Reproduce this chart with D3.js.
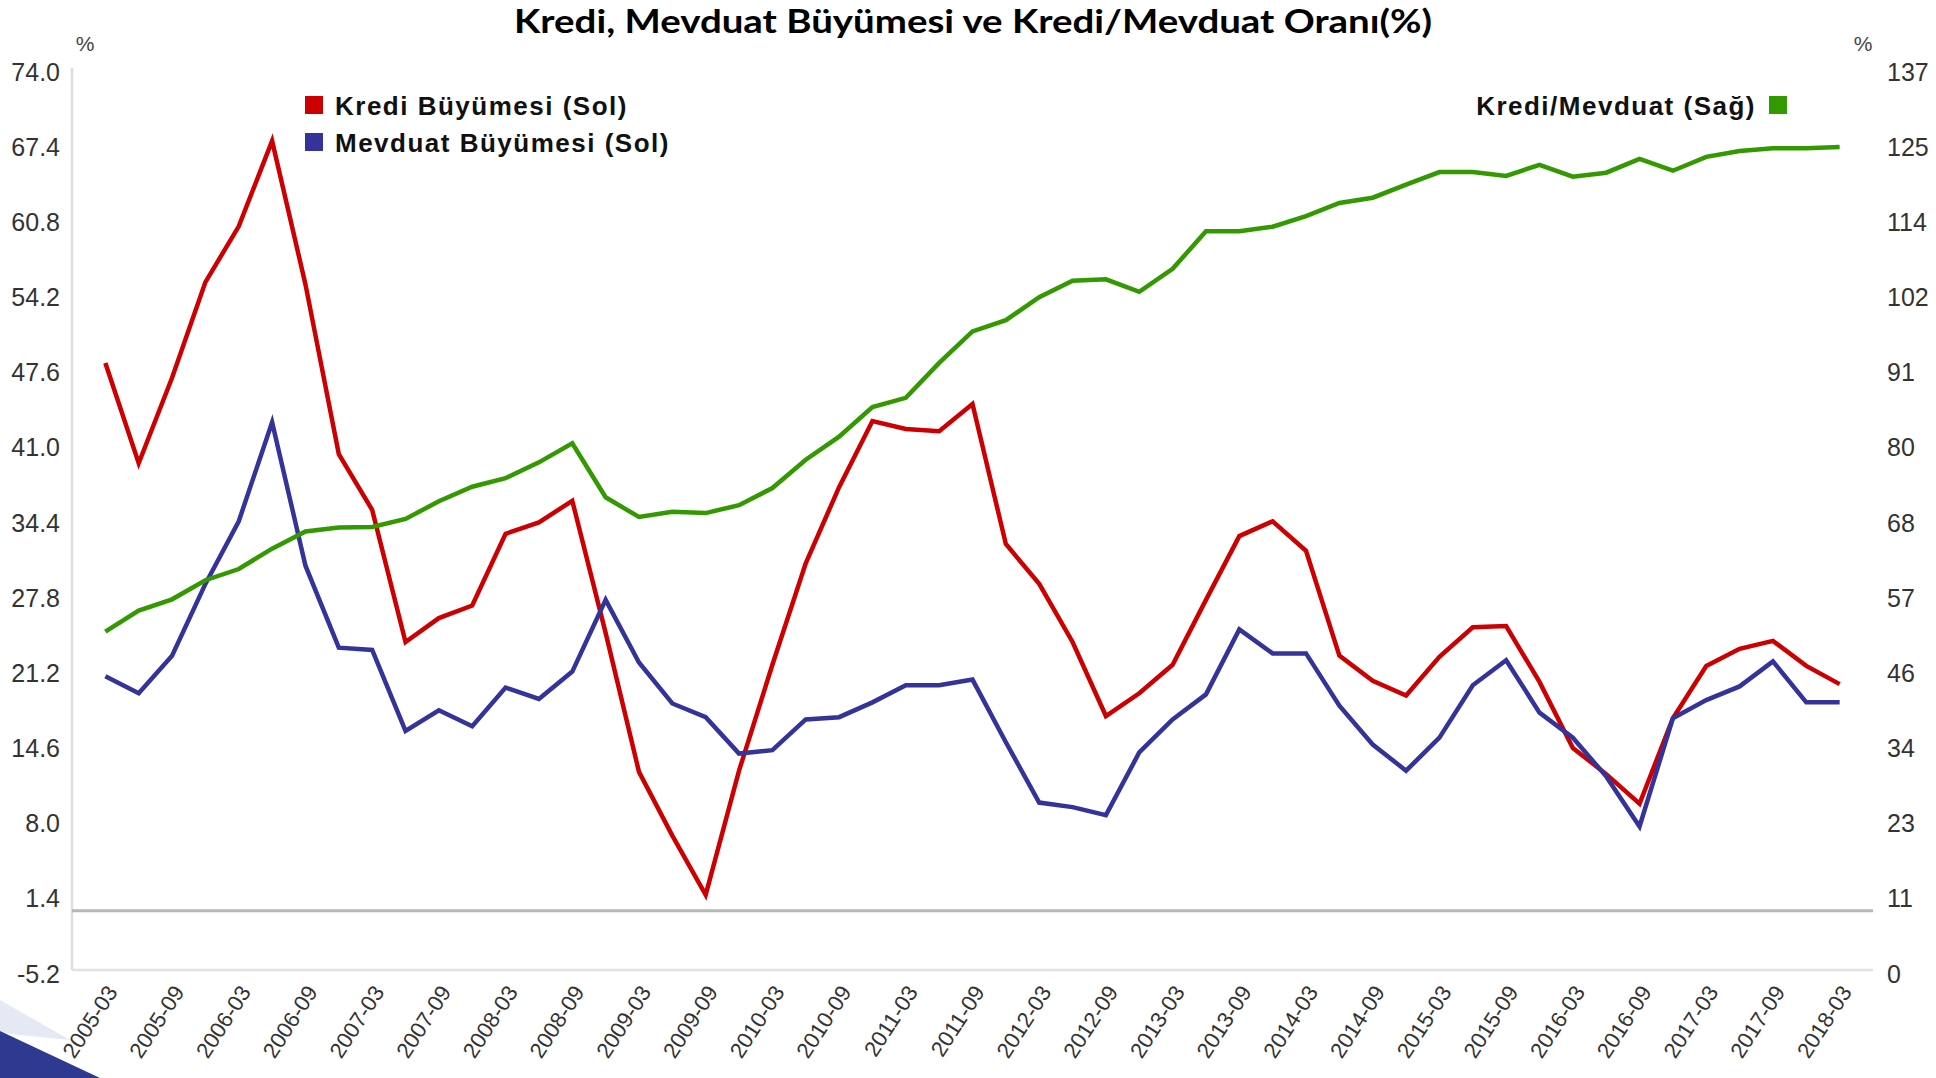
<!DOCTYPE html>
<html>
<head>
<meta charset="utf-8">
<script src="https://cdn.jsdelivr.net/npm/d3@7"></script>
<style>
  html, body { margin: 0; padding: 0; background: #fff; overflow: hidden; }
  svg { display: block; }
  text { font-family: "Liberation Sans", Arial, sans-serif; }
</style>
</head>
<body>
<div class="chart"></div>
<script>
// Data (quarterly, %)
const quarters = [
  "2005-03","2005-06","2005-09","2005-12","2006-03","2006-06","2006-09","2006-12",
  "2007-03","2007-06","2007-09","2007-12","2008-03","2008-06","2008-09","2008-12",
  "2009-03","2009-06","2009-09","2009-12","2010-03","2010-06","2010-09","2010-12",
  "2011-03","2011-06","2011-09","2011-12","2012-03","2012-06","2012-09","2012-12",
  "2013-03","2013-06","2013-09","2013-12","2014-03","2014-06","2014-09","2014-12",
  "2015-03","2015-06","2015-09","2015-12","2016-03","2016-06","2016-09","2016-12",
  "2017-03","2017-06","2017-09","2017-12","2018-03"
];

const krediGrowth = [
  48.1, 39.3, 46.8, 55.2, 60.1, 67.6, 55.0, 40.1, 35.2, 23.6, 25.7, 26.8, 33.1, 34.1,
  36.0, 24.4, 12.2, 6.6, 1.4, 12.3, 21.6, 30.5, 37.2, 43.0, 42.3, 42.1, 44.5, 32.2,
  28.7, 23.6, 17.1, 19.1, 21.6, 27.3, 32.9, 34.2, 31.6, 22.4, 20.2, 18.9, 22.3, 24.9,
  25.0, 20.1, 14.3, 12.0, 9.4, 16.9, 21.5, 23.0, 23.7, 21.5, 19.9
];

const mevduatGrowth = [
  20.6, 19.1, 22.4, 28.7, 34.2, 42.9, 30.3, 23.1, 22.9, 15.8, 17.6, 16.2, 19.6, 18.6,
  21.0, 27.3, 21.8, 18.2, 17.0, 13.8, 14.1, 16.8, 17.0, 18.3, 19.8, 19.8, 20.3, 14.8,
  9.5, 9.1, 8.4, 13.9, 16.8, 19.0, 24.7, 22.6, 22.6, 18.0, 14.6, 12.3, 15.2, 19.8,
  22.0, 17.4, 15.2, 11.8, 7.4, 16.9, 18.5, 19.7, 21.9, 18.3, 18.3
];

const krediMevduatRatio = [
  51.4, 54.6, 56.3, 59.2, 60.9, 64.0, 66.6, 67.2, 67.3, 68.5, 71.2, 73.4, 74.7, 77.1,
  80.0, 71.8, 68.8, 69.6, 69.4, 70.6, 73.2, 77.5, 81.0, 85.5, 86.9, 92.2, 97.0, 98.7,
  102.2, 104.7, 104.9, 103.0, 106.5, 112.2, 112.2, 112.9, 114.5, 116.5, 117.3, 119.3, 121.2, 121.2,
  120.6, 122.3, 120.5, 121.1, 123.2, 121.4, 123.5, 124.4, 124.8, 124.8, 125.0
];

const leftTicks = [-5.2, 1.4, 8.0, 14.6, 21.2, 27.8, 34.4, 41.0, 47.6, 54.2, 60.8, 67.4, 74.0];
const rightTickLabels = ["0", "11", "23", "34", "46", "57", "68", "80", "91", "102", "114", "125", "137"];
const rightMax = 137;
const xTickLabels = [
  "2005-03","2005-09","2006-03","2006-09","2007-03","2007-09","2008-03","2008-09",
  "2009-03","2009-09","2010-03","2010-09","2011-03","2011-09","2012-03","2012-09",
  "2013-03","2013-09","2014-03","2014-09","2015-03","2015-09","2016-03","2016-09",
  "2017-03","2017-09","2018-03"
];

const series = [
  { name: "Kredi Büyümesi (Sol)", values: krediGrowth, color: "#cc0000", axis: "left" },
  { name: "Mevduat Büyümesi (Sol)", values: mevduatGrowth, color: "#333399", axis: "left" },
  { name: "Kredi/Mevduat (Sağ)", values: krediMevduatRatio, color: "#339900", axis: "right" }
];

// plot box (absolute page coordinates)
const margin = { top: 68, right: 63, bottom: 108, left: 72 };
const outerWidth = 1936;
const outerHeight = 1078;
const plotRight = outerWidth - margin.right;
const plotBottom = outerHeight - margin.bottom;

const svg = d3.select('.chart')
  .append('svg')
    .attr('width', outerWidth)
    .attr('height', outerHeight);

// bottom-left slide decoration
svg.append('path')
  .attr('d', 'M0,1000 L70,1040 L0,1033 Z')
  .attr('fill', '#e4e9f4');
svg.append('path')
  .attr('d', 'M0,1031 L100,1078 L0,1078 Z')
  .attr('fill', '#2e3a8f');

// title
svg.append('text')
  .attr('x', 973)
  .attr('y', 33)
  .attr('text-anchor', 'middle')
  .style('font-family', 'Lato, "Open Sans", sans-serif')
  .style('font-weight', 700)
  .style('font-size', '33px')
  .attr('textLength', 918)
  .attr('lengthAdjust', 'spacingAndGlyphs')
  .attr('fill', '#000')
  .text('Kredi, Mevduat Büyümesi ve Kredi/Mevduat Oranı(%)');

// scales
const x = d3.scalePoint()
  .domain(quarters)
  .range([margin.left, plotRight])
  .padding(1);

const yLeft = d3.scaleLinear()
  .domain([leftTicks[0], leftTicks[leftTicks.length - 1]])
  .range([plotBottom, margin.top]);

const yRight = d3.scaleLinear()
  .domain([0, rightMax])
  .range([plotBottom, margin.top]);

const rightTickValues = rightTickLabels.map((d, i) => i * rightMax / (rightTickLabels.length - 1));

// frame: left axis line and bottom line
svg.append('line')
  .attr('x1', margin.left).attr('x2', margin.left)
  .attr('y1', margin.top).attr('y2', plotBottom)
  .attr('stroke', '#dddddd')
  .attr('stroke-width', 2.5);
svg.append('line')
  .attr('x1', margin.left).attr('x2', plotRight)
  .attr('y1', plotBottom).attr('y2', plotBottom)
  .attr('stroke', '#e2e2e2')
  .attr('stroke-width', 2.5);

// zero line
svg.append('line')
  .attr('x1', margin.left).attr('x2', plotRight)
  .attr('y1', yLeft(0)).attr('y2', yLeft(0))
  .attr('stroke', '#b8b8b8')
  .attr('stroke-width', 3);

// left tick labels
svg.selectAll('.y-left')
  .data(leftTicks)
  .enter().append('text')
    .attr('class', 'y-left')
    .attr('x', margin.left - 12)
    .attr('y', d => yLeft(d))
    .attr('dy', '0.5em')
    .attr('text-anchor', 'end')
    .style('font-size', '25px')
    .attr('fill', '#333')
    .text(d => d.toFixed(1));

// right tick labels
svg.selectAll('.y-right')
  .data(rightTickValues)
  .enter().append('text')
    .attr('class', 'y-right')
    .attr('x', plotRight + 14)
    .attr('y', d => yRight(d))
    .attr('dy', '0.5em')
    .style('font-size', '25px')
    .attr('fill', '#333')
    .text((d, i) => rightTickLabels[i]);

// x labels, rotated
svg.selectAll('.x-label')
  .data(xTickLabels)
  .enter().append('text')
    .attr('class', 'x-label')
    .attr('x', d => x(d) + 13)
    .attr('y', plotBottom + 22)
    .attr('transform', d => `rotate(-57,${x(d) + 13},${plotBottom + 22})`)
    .attr('text-anchor', 'end')
    .style('font-size', '22px')
    .attr('fill', '#333')
    .text(d => d);

// % unit labels
svg.append('text')
  .attr('x', 85).attr('y', 51)
  .attr('text-anchor', 'middle')
  .style('font-size', '21px')
  .attr('fill', '#444')
  .text('%');
svg.append('text')
  .attr('x', 1863).attr('y', 51)
  .attr('text-anchor', 'middle')
  .style('font-size', '21px')
  .attr('fill', '#444')
  .text('%');

// lines
const lineFor = s => d3.line()
  .x((d, i) => x(quarters[i]))
  .y(d => s.axis === 'left' ? yLeft(d) : yRight(d));

svg.selectAll('.series')
  .data(series)
  .enter().append('path')
    .attr('class', 'series')
    .attr('d', s => lineFor(s)(s.values))
    .attr('fill', 'none')
    .attr('stroke', s => s.color)
    .attr('stroke-width', 4.5);

// legend (left: two growth series)
series.slice(0, 2).forEach((s, i) => {
  svg.append('rect')
    .attr('x', 305).attr('y', 96 + i * 37)
    .attr('width', 18).attr('height', 18)
    .attr('fill', s.color);
  svg.append('text')
    .attr('x', 335).attr('y', 115 + i * 37)
    .style('font-size', '26px')
    .style('font-weight', 700)
    .style('letter-spacing', '1.5px')
    .attr('fill', '#111')
    .text(s.name);
});

// legend (right: ratio)
const ratio = series[2];
svg.append('rect')
  .attr('x', 1769).attr('y', 96)
  .attr('width', 18).attr('height', 18)
  .attr('fill', ratio.color);
svg.append('text')
  .attr('x', 1756).attr('y', 115)
  .attr('text-anchor', 'end')
  .style('font-size', '26px')
  .style('font-weight', 700)
  .style('letter-spacing', '1.5px')
  .attr('fill', '#111')
  .text(ratio.name);
</script>
</body>
</html>
